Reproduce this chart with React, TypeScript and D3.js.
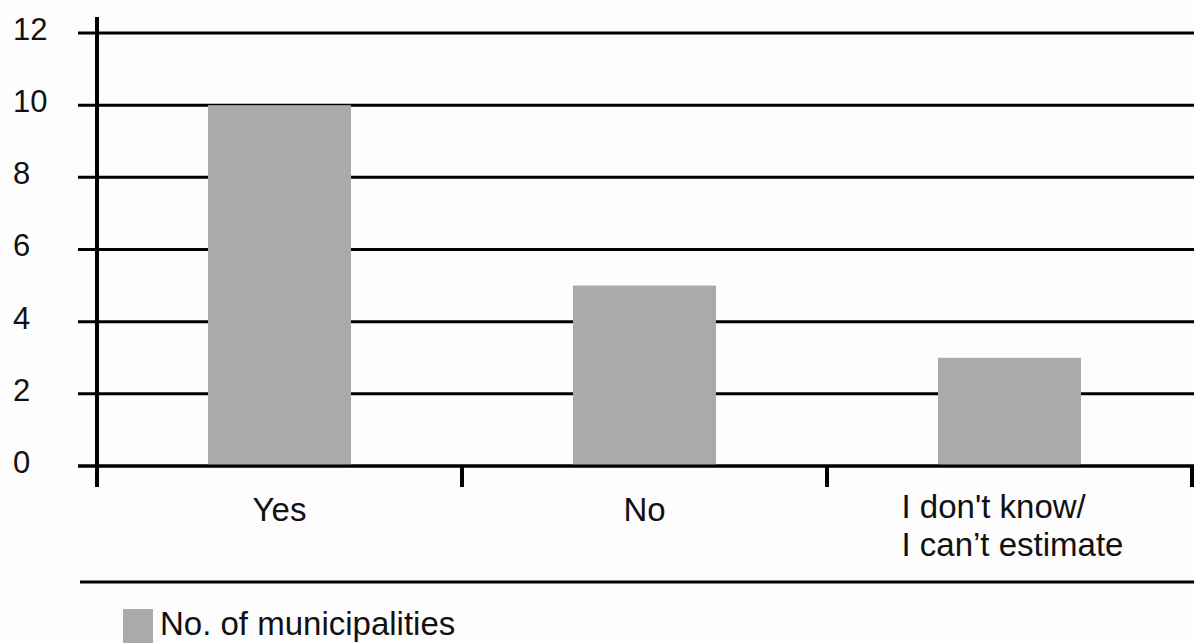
import React from "react";
import * as d3 from "d3";

const categories: string[][] = [["Yes"], ["No"], ["I don't know/", "I can\u2019t estimate"]];
const values: number[] = [10, 5, 3];
const yTicks: number[] = [0, 2, 4, 6, 8, 10, 12];
const seriesName = "No. of municipalities";

const W = 1194;
const H = 643;
const FONT = "'Liberation Sans', Arial, sans-serif";

export default function App() {
  const x = d3
    .scaleBand<number>()
    .domain(categories.map((_, i) => i))
    .range([97, 1192])
    .paddingInner(0)
    .paddingOuter(0);
  const y = d3.scaleLinear().domain([0, 12]).range([466, 33]);
  const barW = 143;
  const bw = x.bandwidth();
  const edges = categories.map((_, i) => x(i) as number).concat([(x(categories.length - 1) as number) + bw]);

  return (
    <svg
      width={W}
      height={H}
      style={{ position: "absolute", left: 0, top: 0, background: "#fdfdfd" }}
      fontFamily={FONT}
    >
      {yTicks.map((t) => (
        <line key={"g" + t} x1={78} x2={W} y1={y(t)} y2={y(t)} stroke="#000" strokeWidth={3} />
      ))}
      {values.map((v, i) => (
        <rect
          key={"b" + i}
          x={(x(i) as number) + bw / 2 - barW / 2}
          y={y(v)}
          width={barW}
          height={y(0) - y(v)}
          fill="#aaaaaa"
        />
      ))}
      <line x1={78} x2={W} y1={y(0)} y2={y(0)} stroke="#000" strokeWidth={3} />
      <line x1={97} x2={97} y1={17} y2={487} stroke="#000" strokeWidth={4} />
      {edges.slice(1).map((e, i) => (
        <line key={"t" + i} x1={e} x2={e} y1={y(0)} y2={487} stroke="#000" strokeWidth={4} />
      ))}
      {yTicks.map((t) => (
        <text key={"l" + t} x={13} y={y(t) - 4} dy="0.35em" fontSize={31} fill="#111">
          {t}
        </text>
      ))}
      {categories.map((lines, i) => {
        const cx = (x(i) as number) + bw / 2;
        if (lines.length === 1) {
          return (
            <text key={"c" + i} x={cx} y={521} textAnchor="middle" fontSize={33} fill="#111">
              {lines[0]}
            </text>
          );
        }
        return (
          <text key={"c" + i} x={cx - 108} y={518} fontSize={33} fill="#111">
            {lines.map((ln, j) => (
              <tspan key={j} x={cx - 108} dy={j === 0 ? 0 : 38}>
                {ln}
              </tspan>
            ))}
          </text>
        );
      })}
      <line x1={80} x2={W} y1={582} y2={582} stroke="#000" strokeWidth={3} />
      <rect x={123} y={609} width={30} height={40} fill="#aaaaaa" />
      <text x={160} y={635} fontSize={33} fill="#111">
        {seriesName}
      </text>
    </svg>
  );
}
